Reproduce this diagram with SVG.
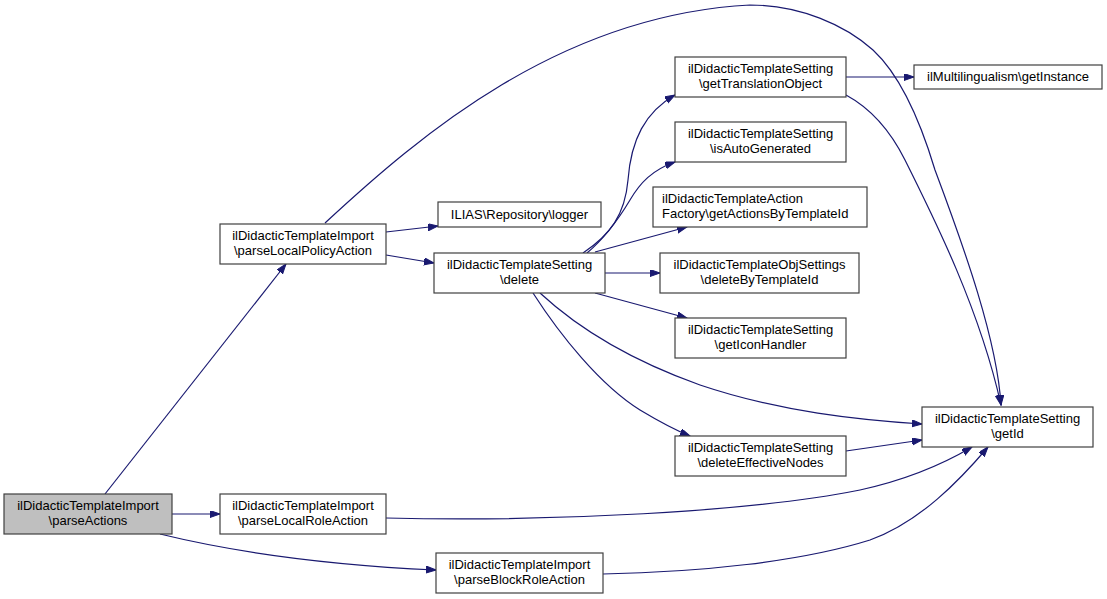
<svg xmlns="http://www.w3.org/2000/svg" width="1107" height="599" viewBox="0 0 1107 599">
<defs>
<style>
.n rect{fill:#ffffff;stroke:#404040;stroke-width:1.2}
.n.cur rect{fill:#bfbfbf}
.n text{font-family:"Liberation Sans",Arial,sans-serif;font-size:13px;fill:#000000;text-anchor:middle}
.n text.l{text-anchor:start}
.e path{fill:none;stroke:#191970;stroke-width:1.2}
</style>
<marker id="ah" markerWidth="11" markerHeight="8" refX="10" refY="3.5" orient="auto" markerUnits="userSpaceOnUse">
<path d="M0,0 L10,3.5 L0,7 z" fill="#191970" stroke="#191970" stroke-width="1"/>
</marker>
</defs>
<rect width="1107" height="599" fill="#ffffff"/>
<g id="edges" class="e">
<path marker-end="url(#ah)" d="M105,494 L286,264"/>
<path marker-end="url(#ah)" d="M172,514 L220,514"/>
<path marker-end="url(#ah)" d="M160,534 C250,556 350,566 436,570"/>
<path marker-end="url(#ah)" d="M386,232 L438,226"/>
<path marker-end="url(#ah)" d="M386,255 L434,263"/>
<path marker-end="url(#ah)" d="M325,223 C420,135 560,15 750,5 C800,5 845,25 873,50 C900,75 920,120 935,170 C965,250 997,340 1001,405"/>
<path marker-end="url(#ah)" d="M846,95 C870,108 890,130 905,160 C935,220 980,310 1001,405"/>
<path marker-end="url(#ah)" d="M846,77 L914,77"/>
<path marker-end="url(#ah)" d="M583,253 C610,235 625,215 628,180 C631,140 645,112 675,95"/>
<path marker-end="url(#ah)" d="M587,253 C605,238 618,220 630,200 C640,183 652,170 675,162"/>
<path marker-end="url(#ah)" d="M595,252 L687,227"/>
<path marker-end="url(#ah)" d="M605,273 L660,273"/>
<path marker-end="url(#ah)" d="M595,293 L687,318"/>
<path marker-end="url(#ah)" d="M540,293 C580,330 630,360 700,385 C780,412 860,420 922,424"/>
<path marker-end="url(#ah)" d="M533,293 C560,335 600,385 640,410 C660,422 675,430 690,436"/>
<path marker-end="url(#ah)" d="M846,451 L922,440"/>
<path marker-end="url(#ah)" d="M386,518 C550,522 750,512 860,490 C910,479 945,463 972,447"/>
<path marker-end="url(#ah)" d="M603,574 C700,572 800,562 870,540 C920,522 960,480 988,447"/>
</g>
<g id="parseActions" class="n cur"><rect x="4" y="494" width="168" height="40"/><text x="88" y="510">ilDidacticTemplateImport</text><text x="88" y="525">\parseActions</text></g>
<g id="parseLocalPolicyAction" class="n"><rect x="220" y="224" width="166" height="40"/><text x="303" y="240">ilDidacticTemplateImport</text><text x="303" y="255">\parseLocalPolicyAction</text></g>
<g id="parseLocalRoleAction" class="n"><rect x="220" y="494" width="166" height="40"/><text x="303" y="510">ilDidacticTemplateImport</text><text x="303" y="525">\parseLocalRoleAction</text></g>
<g id="parseBlockRoleAction" class="n"><rect x="436" y="553" width="167" height="40"/><text x="519.5" y="569">ilDidacticTemplateImport</text><text x="519.5" y="584">\parseBlockRoleAction</text></g>
<g id="logger" class="n"><rect x="438" y="202" width="163" height="25"/><text x="519.5" y="219">ILIAS\Repository\logger</text></g>
<g id="delete" class="n"><rect x="434" y="253" width="171" height="40"/><text x="519.5" y="269">ilDidacticTemplateSetting</text><text x="519.5" y="284">\delete</text></g>
<g id="getTranslationObject" class="n"><rect x="675" y="57" width="171" height="40"/><text x="760.5" y="73">ilDidacticTemplateSetting</text><text x="760.5" y="88">\getTranslationObject</text></g>
<g id="isAutoGenerated" class="n"><rect x="675" y="122" width="171" height="40"/><text x="760.5" y="138">ilDidacticTemplateSetting</text><text x="760.5" y="153">\isAutoGenerated</text></g>
<g id="getActionsByTemplateId" class="n"><rect x="653" y="187" width="214" height="40"/><text class="l" x="662" y="203">ilDidacticTemplateAction</text><text class="l" x="662" y="218">Factory\getActionsByTemplateId</text></g>
<g id="deleteByTemplateId" class="n"><rect x="660" y="253" width="199" height="40"/><text x="759.5" y="269">ilDidacticTemplateObjSettings</text><text x="759.5" y="284">\deleteByTemplateId</text></g>
<g id="getIconHandler" class="n"><rect x="675" y="318" width="171" height="40"/><text x="760.5" y="334">ilDidacticTemplateSetting</text><text x="760.5" y="349">\getIconHandler</text></g>
<g id="deleteEffectiveNodes" class="n"><rect x="675" y="436" width="171" height="40"/><text x="760.5" y="452">ilDidacticTemplateSetting</text><text x="760.5" y="467">\deleteEffectiveNodes</text></g>
<g id="getId" class="n"><rect x="922" y="407" width="171" height="40"/><text x="1007.5" y="423">ilDidacticTemplateSetting</text><text x="1007.5" y="438">\getId</text></g>
<g id="getInstance" class="n"><rect x="914" y="65" width="188" height="24"/><text x="1008" y="81">ilMultilingualism\getInstance</text></g>
</svg>
